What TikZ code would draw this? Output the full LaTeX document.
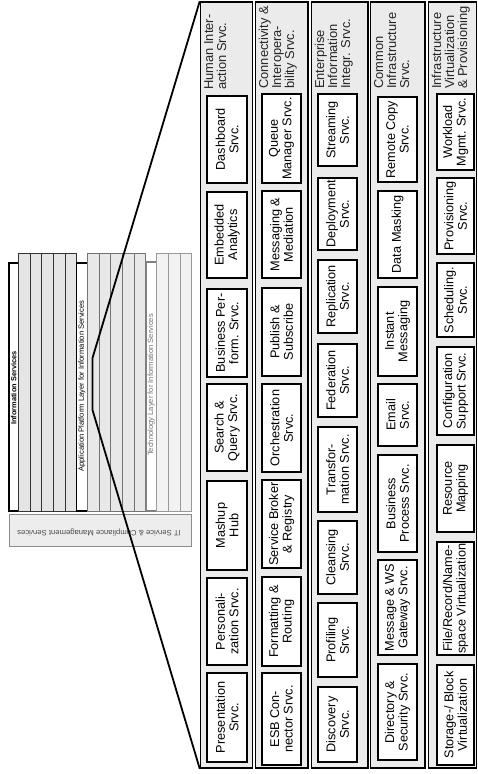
\documentclass[tikz,border=0pt]{standalone}
\usepackage{fontspec}
\setmainfont{Liberation Sans}
\tikzset{
  colbox/.style={draw=black, line width=1.5pt, fill=black!8, inner sep=0pt},
  sbox/.style={draw=black, line width=2.2pt, fill=white, rotate=90, align=center, inner sep=0pt, font=\fontsize{12.7}{13.5}\selectfont},
  clabel/.style={rotate=90, anchor=north west, align=left, inner sep=0pt, font=\fontsize{12.9}{13}\selectfont, text=black!85},
  layerbox/.style={fill=white, line width=1.3pt},
  slatA/.style={fill=black!10, draw=black!80, line width=0.9pt},
  slatB/.style={fill=black!9, draw=black!55, line width=0.9pt},
  slatC/.style={fill=black!5, draw=black!40, line width=0.9pt},
  smalltext/.style={rotate=90, inner sep=0pt, font=\fontsize{7.6}{8}\selectfont},
  zoomline/.style={draw=black, line width=1.8pt, line join=miter},
}
\newcommand\SB[6]{\node[sbox, minimum width={(#5-#4)*1pt}, minimum height={(#3-#2)*1pt}] (#1) at ({(#2+#3)/2},{(#4+#5)/2}) {#6};}
\newcommand\CB[3]{\node[colbox, minimum width={(#3-#2)*1pt}, minimum height=766pt] (#1) at ({(#2+#3)/2},385) {};}
\begin{document}
\begin{tikzpicture}[x=1pt,y=-1pt]
\useasboundingbox (0,0) rectangle (477,774);
% ---------- small overview diagram ----------
\draw[layerbox, draw=black] (9,263) rectangle (18.3,511);
\foreach \i in {0,...,4} \draw[slatA] ({18.3+11.68*\i},253) rectangle ({18.3+11.68*(\i+1)},511);
\draw[layerbox, draw=black] (76.7,263) rectangle (87.3,511);
\foreach \i in {0,...,4} \draw[slatB] ({87.3+11.68*\i},253) rectangle ({87.3+11.68*(\i+1)},511);
\draw[layerbox, draw=black!50, line width=1.8pt] (145.7,262) rectangle (156.7,511);
\foreach \i in {0,...,2} \draw[slatC] ({156.7+11.68*\i},253) rectangle ({156.7+11.68*(\i+1)},511);
\node[draw=black!45, fill=black!7, line width=0.9pt, minimum width=182pt, minimum height=32pt, inner sep=0pt] (itbox) at (100,530) {};
\node[smalltext, font={\fontsize{7.4}{8}\selectfont\bfseries}] (infoT) at (13.7,388) {Information Services};
\node[smalltext] (appT) at (82,386) {Application Platform Layer for Information Services};
\node[smalltext, text=black!55] (techT) at (151.2,385) {Technology Layer for Information Services};
\node[inner sep=0pt, rotate=180, text=black!70, font=\fontsize{7.7}{8}\selectfont] (itT) at (99,532) {IT Service \& Compliance Management Services};
% ---------- detail columns ----------
\CB{col1}{200.5}{252.5}
\CB{col2}{255.5}{308}
\CB{col3}{311.5}{368}
\CB{col4}{370.5}{425}
\CB{col5}{428.5}{476.5}
% column labels
\node[clabel] (l1) at (204,90) {Human Inter-\\action Srvc.};
\node[clabel] (l2) at (258.5,89) {Connectivity \&\\Interopera-\\bility Srvc.};
\node[clabel] (l3) at (314.5,89) {Enterprise\\Information\\Integr. Srvc.};
\node[clabel] (l4) at (374,89) {Common\\Infrastructure\\Srvc.};
\node[clabel] (l5) at (431.5,89) {Infrastructure\\Virtualization\\\& Provisioning};
% column 1
\SB{a1}{207}{247}{96}{183}{Dashboard\\Srvc.}
\SB{a2}{207}{247}{192}{278}{Embedded\\Analytics}
\SB{a3}{207}{247}{289}{377}{Business Per-\\form. Srvc.}
\SB{a4}{207}{247}{384}{471}{Search \&\\Query Srvc.}
\SB{a5}{207}{247}{481}{570}{Mashup\\Hub}
\SB{a6}{207}{247}{578}{665}{Personali-\\zation Srvc.}
\SB{a7}{207}{247}{673}{762}{Presentation\\Srvc.}
% column 2
\SB{b1}{262}{301}{94}{183}{Queue\\Manager Srvc.}
\SB{b2}{262}{301}{191}{278}{Messaging \&\\Mediation}
\SB{b3}{262}{301}{288}{376}{Publish \&\\Subscribe}
\SB{b4}{262}{301}{384}{472}{Orchestration\\Srvc.}
\SB{b5}{262}{301}{480}{568}{Service Broker\\\& Registry}
\SB{b6}{262}{301}{577}{666}{Formatting \&\\Routing}
\SB{b7}{262}{301}{673}{765}{ESB Con-\\nector Srvc.}
% column 3
\SB{c1}{318}{357}{94}{166}{Streaming\\Srvc.}
\SB{c2}{318}{357}{178}{250}{Deployment\\Srvc.}
\SB{c3}{318}{357}{260}{333}{Replication\\Srvc.}
\SB{c4}{318}{357}{344}{417}{Federation\\Srvc.}
\SB{c5}{318}{357}{427}{512}{Transfor-\\mation Srvc.}
\SB{c6}{318}{357}{521}{594}{Cleansing\\Srvc.}
\SB{c7}{318}{357}{603}{677}{Profiling\\Srvc.}
\SB{c8}{318}{357}{687}{762}{Discovery\\Srvc.}
% column 4
\SB{d1}{378}{417}{97}{182}{Remote Copy\\Srvc.}
\SB{d2}{378}{417}{191}{278}{Data Masking}
\SB{d3}{378}{417}{287}{376}{Instant\\Messaging}
\SB{d4}{378}{417}{384}{446}{Email\\Srvc.}
\SB{d5}{378}{417}{455}{552}{Business\\Process Srvc.}
\SB{d6}{378}{417}{560}{655}{Message \& WS\\Gateway Srvc.}
\SB{d7}{378}{417}{664}{760}{Directory \&\\Security Srvc.}
% column 5
\SB{e1}{437}{474}{94}{170}{Workload\\Mgmt. Srvc.}
\SB{e2}{437}{474}{178}{254}{Provisioning\\Srvc.}
\SB{e3}{437}{474}{263}{337}{Scheduling.\\Srvc.}
\SB{e4}{437}{474}{347}{435}{Configuration\\Support Srvc.}
\SB{e5}{437}{474}{445}{532}{Resource\\Mapping}
\SB{e6}{437}{474}{542}{655}{File/Record/Name-\\space Virtualization}
\SB{e7}{437}{474}{665}{765}{Storage-/ Block\\Virtualization}
% ---------- zoom lines ----------
\coordinate (bendA) at (92.5,358);
\coordinate (bendB) at (92.5,410);
\draw[zoomline] (col1.north west) -- (bendA) -- (bendB) -- (col1.south west);
\end{tikzpicture}
\end{document}
